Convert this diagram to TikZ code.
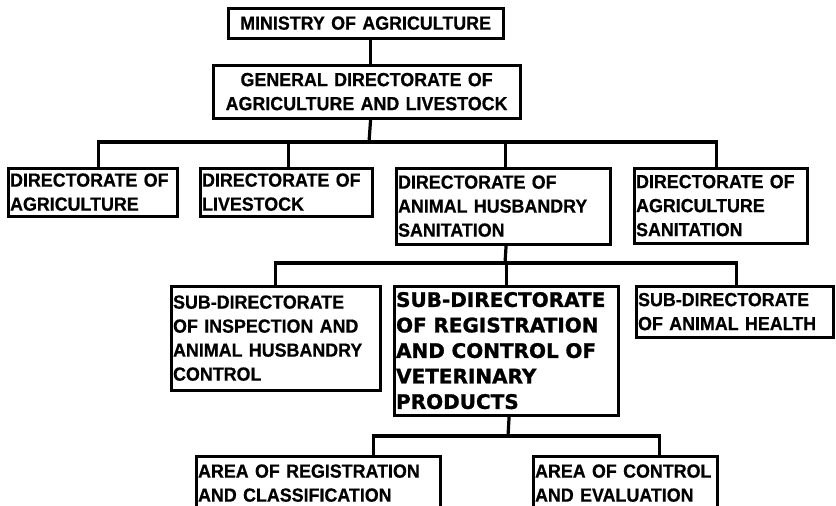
\documentclass[tikz,border=0pt]{standalone}
\usepackage{fontspec}
\setmainfont{Liberation Sans}
\newfontfamily\orgfont{Liberation Sans}[FakeStretch=0.94,FakeBold=0.6]
\newfontfamily\heavyfont{DejaVu Sans}[FakeBold=1.2]
\usepackage{tikz}
\usetikzlibrary{calc}

\begin{document}
\begin{tikzpicture}[x=1pt,y=-1pt,
  orgbox/.style 2 args={draw,line width=3.2pt,anchor=north west,inner xsep=2pt,inner ysep=2pt,
    text width=#1,minimum height=#2,align=left,font=\orgfont\bfseries\fontsize{19}{24}\selectfont},
  heavy/.style={font=\heavyfont\bfseries\fontsize{20}{25.5}\selectfont},
  link/.style={line width=3.2pt}]
\useasboundingbox (0,0) rectangle (836,506);
\node[orgbox={271pt}{30pt},align=center] (min) at (226.5,6.5) {MINISTRY OF AGRICULTURE};
\node[orgbox={303pt}{53pt},align=center] (gd) at (211.5,63.5) {GENERAL DIRECTORATE OF\\AGRICULTURE AND LIVESTOCK};
\node[orgbox={165pt}{48pt}] (dirag) at (6.5,166.5) {DIRECTORATE OF\\AGRICULTURE};
\node[orgbox={168pt}{48pt}] (dirliv) at (198.5,166.5) {DIRECTORATE OF\\LIVESTOCK};
\node[orgbox={210pt}{76pt}] (dirahs) at (394.5,166.5) {DIRECTORATE OF\\ANIMAL HUSBANDRY\\SANITATION};
\node[orgbox={169pt}{75pt}] (dirags) at (632.5,166.5) {DIRECTORATE OF\\AGRICULTURE\\SANITATION};
\node[orgbox={205pt}{104pt}] (subinsp) at (169.5,284.5) {SUB-DIRECTORATE\\OF INSPECTION AND\\ANIMAL HUSBANDRY\\CONTROL};
\node[orgbox={220pt}{129pt},heavy] (subreg) at (392.5,284.5) {SUB-DIRECTORATE\\OF REGISTRATION\\AND CONTROL OF\\VETERINARY\\PRODUCTS};
\node[orgbox={193pt}{51pt}] (subhealth) at (634.5,284.5) {SUB-DIRECTORATE\\OF ANIMAL HEALTH};
\node[orgbox={240pt}{54pt}] (areareg) at (194.5,454.5) {AREA OF REGISTRATION\\AND CLASSIFICATION};
\node[orgbox={180pt}{54pt}] (areactrl) at (531.5,454.5) {AREA OF CONTROL\\AND EVALUATION};
\coordinate (b1) at (369,142);
\coordinate (b2) at (505,263);
\coordinate (b3) at (508,436);
\draw[link] ([xshift=5pt]min.south) -- ([xshift=4pt]gd.north);
\draw[link] ([xshift=4pt]gd.south) -- (b1);
\draw[link] ([xshift=6pt]dirag.north) |- (b1) -| ([xshift=-4pt]dirags.north);
\draw[link] ([xshift=2pt]dirliv.north) -- ([xshift=2pt]dirliv.north |- b1);
\draw[link] ([xshift=2pt]dirahs.north) -- ([xshift=2pt]dirahs.north |- b1);
\draw[link] ([xshift=3pt]dirahs.south) -- (b2);
\draw[link] (subinsp.north) |- (b2) -| ([xshift=2pt]subhealth.north);
\draw[link] (subreg.north) -- (subreg.north |- b2);
\draw[link] ([xshift=3pt]subreg.south) -- (b3);
\draw[link] ([xshift=55pt]areareg.north) |- (b3) -| ([xshift=34pt]areactrl.north);
\end{tikzpicture}
\end{document}
